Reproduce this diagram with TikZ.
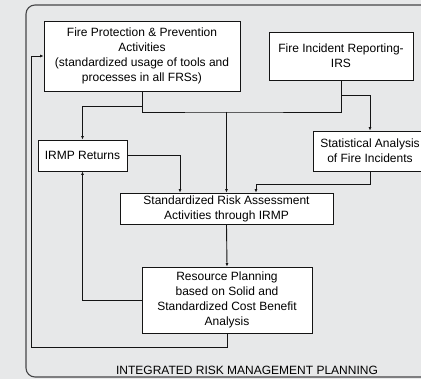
\documentclass[tikz,border=0pt]{standalone}
\usepackage{fontspec}
\setmainfont{Liberation Sans}
\usetikzlibrary{arrows.meta}
\definecolor{bgc}{RGB}{231,232,233}
\definecolor{framec}{RGB}{70,70,72}
\definecolor{linec}{RGB}{20,20,20}
\tikzset{
  boxnode/.style={draw=linec, line width=0.9pt, fill=white, align=center, inner sep=0pt,
    font=\fontsize{12}{15}\selectfont, text=black},
  conn/.style={draw=linec, line width=0.9pt},
  arr/.style={conn, -{Latex[length=3.5pt,width=3pt]}}
}
\begin{document}
\begin{tikzpicture}[x=1pt,y=-1pt]
\useasboundingbox (0,0) rectangle (421,379);
\fill[bgc] (0,0) rectangle (421,379);
\draw[framec, line width=1.1pt, rounded corners=9pt] (26,5) rectangle (445,377);

\node[boxnode, minimum width=196pt, minimum height=70pt] (b1) at (142,56)
  {Fire Protection \& Prevention\\Activities\\(standardized usage of tools and\\processes in all FRSs)};
\node[boxnode, minimum width=144pt, minimum height=48pt] (b2) at (341,56)
  {Fire Incident Reporting-\\IRS};
\node[boxnode, minimum width=89pt, minimum height=31pt] (b3) at (82.5,155.5)
  {IRMP Returns};
\node[boxnode, minimum width=114pt, minimum height=40pt] (b4) at (370,151)
  {Statistical Analysis\\of Fire Incidents};
\node[boxnode, minimum width=213pt, minimum height=31pt] (b5) at (226.5,208.5)
  {Standardized Risk Assessment\\Activities through IRMP};
\node[boxnode, minimum width=170pt, minimum height=66pt] (b6) at (227,300)
  {Resource Planning\\based on Solid and\\Standardized Cost Benefit\\Analysis};

\node[font=\fontsize{12}{15}\selectfont, inner sep=0pt] (lbl) at (247,370.5)
  {INTEGRATED RISK MANAGEMENT PLANNING};

\coordinate (m) at (226.5,112);
\coordinate (k) at (142,106);
\coordinate (q) at (341,95);
\coordinate (s) at (256,184);
\coordinate (r) at (180,0);
\coordinate (f) at (31,347);

\draw[conn] (b1.south) |- (m) -| (b2.south);
\draw[arr] (m) -- (b5.north);
\draw[arr] (k) -| (b3.north);
\draw[arr] (q) -| (b4.north);
\draw[arr] (b4.south) |- (s) -- (s |- b5.north);
\draw[arr] (b3.east) -| (r |- b5.north);
\draw[arr] (b5.south) -- (b6.north);
\draw[arr] (b6.west) -| (b3.south);
\draw[arr] (b6.south) |- (f) |- (b1.west);
\end{tikzpicture}
\end{document}
